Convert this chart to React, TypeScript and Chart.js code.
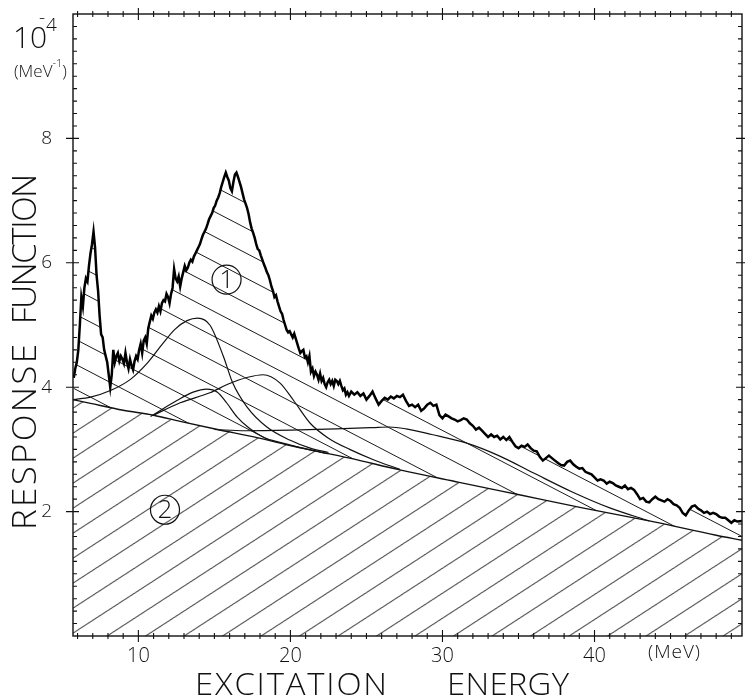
import React, { useEffect, useRef } from 'react';
import { Chart, registerables } from 'chart.js';

Chart.register(...registerables);

// ---------- data ----------
const X_MIN = 5.7;
const X_MAX = 49.7;
const Y_MIN = 0;
const Y_MAX = 10;
const X_TICKS = [10, 20, 30, 40];
const Y_TICKS = [2, 4, 6, 8];

// measured response function (x 10^-4 MeV^-1) vs excitation energy (MeV)
const SPEC_E = [
  5.75, 5.85, 5.95, 6.05, 6.15, 6.25, 6.35, 6.45, 6.55, 6.65, 6.75, 6.85, 6.95, 7.05, 7.15, 7.25, 7.35, 7.45, 7.55, 7.65,
  7.75, 7.85, 7.95, 8.05, 8.15, 8.25, 8.35, 8.45, 8.55, 8.65, 8.75, 8.85, 8.95, 9.05, 9.15, 9.25, 9.35, 9.45, 9.55, 9.65,
  9.75, 9.85, 9.95, 10.05, 10.15, 10.25, 10.35, 10.45, 10.55, 10.65, 10.75, 10.85, 10.95, 11.05, 11.15, 11.25, 11.35, 11.45, 11.55, 11.65,
  11.75, 11.85, 11.95, 12.05, 12.15, 12.25, 12.35, 12.45, 12.55, 12.65, 12.75, 12.85, 12.95, 13.05, 13.15, 13.25, 13.35, 13.45, 13.55, 13.65,
  13.75, 13.85, 13.95, 14.05, 14.15, 14.25, 14.35, 14.45, 14.55, 14.65, 14.75, 14.85, 14.95, 15.05, 15.15, 15.25, 15.35, 15.45, 15.55, 15.65,
  15.75, 15.85, 15.95, 16.05, 16.15, 16.25, 16.35, 16.45, 16.55, 16.65, 16.75, 16.85, 16.95, 17.05, 17.15, 17.25, 17.35, 17.45, 17.55, 17.65,
  17.75, 17.85, 17.95, 18.05, 18.15, 18.25, 18.35, 18.45, 18.55, 18.65, 18.75, 18.85, 18.95, 19.05, 19.15, 19.25, 19.35, 19.45, 19.55, 19.65,
  19.75, 19.85, 19.95, 20.05, 20.15, 20.25, 20.35, 20.45, 20.55, 20.65, 20.75, 20.85, 20.95, 21.05, 21.15, 21.25, 21.35, 21.45, 21.55, 21.65,
  21.75, 21.85, 21.95, 22.05, 22.15, 22.25, 22.35, 22.45, 22.55, 22.65, 22.75, 22.85, 22.95, 23.05, 23.15, 23.25, 23.35, 23.45, 23.55, 23.65,
  23.75, 23.85, 24.0, 24.2, 24.4, 24.6, 24.8, 25.0, 25.2, 25.4, 25.6, 25.8, 26.0, 26.2, 26.4, 26.6, 26.8, 27.0, 27.2, 27.4,
  27.6, 27.8, 28.0, 28.2, 28.4, 28.6, 28.8, 29.0, 29.2, 29.4, 29.6, 29.8, 30.0, 30.2, 30.4, 30.6, 30.8, 31.0, 31.2, 31.4,
  31.6, 31.8, 32.0, 32.2, 32.4, 32.6, 32.8, 33.0, 33.2, 33.4, 33.6, 33.8, 34.0, 34.2, 34.4, 34.6, 34.8, 35.0, 35.2, 35.4,
  35.6, 35.8, 36.0, 36.2, 36.4, 36.6, 36.8, 37.0, 37.2, 37.4, 37.6, 37.8, 38.0, 38.2, 38.4, 38.6, 38.8, 39.0, 39.2, 39.4,
  39.6, 39.8, 40.0, 40.2, 40.4, 40.6, 40.8, 41.0, 41.2, 41.4, 41.6, 41.8, 42.0, 42.2, 42.4, 42.6, 42.8, 43.0, 43.2, 43.4,
  43.6, 43.8, 44.0, 44.2, 44.4, 44.6, 44.8, 45.0, 45.2, 45.4, 45.6, 45.8, 46.0, 46.2, 46.4, 46.6, 46.8, 47.0, 47.2, 47.4,
  47.6, 47.8, 48.0, 48.2, 48.4, 48.6, 48.8, 49.0, 49.2, 49.4, 49.7,
];
const SPEC_R = [
  4.15, 4.3, 4.4, 4.6, 5.0, 5.45, 5.3, 5.6, 5.75, 5.7, 5.95, 6.15, 6.3, 6.5, 6.25, 5.8, 5.55, 5.15, 4.85, 4.8,
  4.6, 4.5, 4.4, 4.2, 4.0, 4.2, 4.6, 4.4, 4.5, 4.55, 4.42, 4.5, 4.45, 4.38, 4.55, 4.4, 4.3, 4.45, 4.35, 4.28,
  4.42, 4.5, 4.45, 4.6, 4.7, 4.55, 4.75, 4.8, 4.7, 4.95, 5.05, 5.15, 5.1, 5.2, 5.25, 5.2, 5.3, 5.22, 5.35, 5.4,
  5.38, 5.5, 5.45, 5.35, 5.5, 5.6, 5.9, 5.75, 5.7, 5.78, 5.62, 5.75, 5.85, 5.95, 5.88, 5.92, 6.0, 6.05, 6.02, 6.1,
  6.15, 6.2, 6.25, 6.3, 6.38, 6.45, 6.5, 6.55, 6.62, 6.7, 6.75, 6.8, 6.88, 6.92, 7.0, 7.05, 7.12, 7.22, 7.3, 7.38,
  7.45, 7.38, 7.32, 7.2, 7.15, 7.3, 7.42, 7.45, 7.38, 7.3, 7.22, 7.12, 7.02, 6.95, 6.88, 6.78, 6.65, 6.55, 6.48, 6.4,
  6.3, 6.22, 6.2, 6.12, 6.05, 5.98, 5.92, 5.85, 5.8, 5.72, 5.62, 5.55, 5.45, 5.48, 5.38, 5.3, 5.22, 5.18, 5.08, 5.0,
  4.92, 4.88, 4.9, 4.85, 4.8, 4.86, 4.78, 4.7, 4.62, 4.55, 4.58, 4.6, 4.48, 4.5, 4.4, 4.5, 4.25, 4.3, 4.18, 4.25,
  4.2, 4.12, 4.22, 4.1, 4.15, 4.05, 4.0, 4.08, 4.12, 4.05, 4.1, 4.02, 4.12, 4.1, 4.05, 4.1, 4.02, 3.95, 3.98, 3.88,
  3.92, 3.86, 3.93, 3.88, 3.92, 3.86, 3.9, 3.8, 3.86, 3.93, 3.82, 3.72, 3.78, 3.83, 3.8, 3.85, 3.82, 3.86, 3.84, 3.88,
  3.78, 3.7, 3.72, 3.68, 3.72, 3.62, 3.66, 3.72, 3.75, 3.7, 3.72, 3.55, 3.5, 3.56, 3.53, 3.5, 3.48, 3.45, 3.47, 3.5,
  3.48, 3.42, 3.38, 3.32, 3.35, 3.3, 3.25, 3.2, 3.24, 3.2, 3.22, 3.16, 3.2, 3.15, 3.2, 3.12, 3.05, 3.02, 3.06, 3.04,
  3.08, 3.02, 2.98, 2.97, 2.88, 2.82, 2.86, 2.9, 2.86, 2.82, 2.78, 2.75, 2.74, 2.8, 2.82, 2.76, 2.72, 2.69, 2.7, 2.64,
  2.62, 2.6, 2.55, 2.5, 2.52, 2.5, 2.45, 2.48, 2.46, 2.42, 2.4, 2.38, 2.42, 2.36, 2.38, 2.35, 2.28, 2.2, 2.22, 2.16,
  2.15, 2.2, 2.24, 2.2, 2.18, 2.16, 2.2, 2.17, 2.12, 2.1, 2.06, 1.98, 1.94, 2.02, 2.08, 2.1, 2.05, 2.02, 1.98, 2.0,
  1.96, 1.98, 1.96, 1.92, 1.9, 1.9, 1.86, 1.82, 1.86, 1.84, 1.85,
];

// background (region 2 upper boundary)
const BG_E = [5.7, 6.85, 9.0, 11.0, 12.75, 15.2, 17.8, 20.2, 23.9, 27.2, 31.1, 35.05, 39.2, 43.6, 48.0, 49.7];
const BG_R = [3.8, 3.74, 3.63, 3.55, 3.45, 3.32, 3.19, 3.05, 2.86, 2.67, 2.47, 2.27, 2.06, 1.85, 1.62, 1.54];

// fitted components (drawn on top of the background)
const COMP_A_E = [5.7, 6.85, 8.2, 9.5, 10.6, 11.6, 12.4, 13.2, 13.9, 14.7, 15.6, 16.2, 17.15, 18.45, 19.95, 21.3, 22.5];
const COMP_A_R = [3.8, 3.84, 3.95, 4.13, 4.39, 4.7, 4.93, 5.07, 5.11, 5.0, 4.49, 4.07, 3.68, 3.36, 3.15, 3.02, 2.95];
const COMP_B_E = [10.8, 12.56, 13.6, 14.5, 15.2, 15.8, 16.5, 17.3, 18.2, 19.5, 21.3, 22.5];
const COMP_B_R = [3.53, 3.79, 3.92, 3.97, 3.92, 3.75, 3.52, 3.34, 3.2, 3.1, 2.99, 2.93];
const COMP_C_E = [11.0, 12.75, 14.7, 16.0, 17.2, 18.2, 19.3, 20.2, 21.3, 22.5, 23.9, 25.5, 27.2];
const COMP_C_R = [3.55, 3.75, 3.91, 4.06, 4.16, 4.2, 4.07, 3.79, 3.42, 3.18, 3.0, 2.83, 2.68];
const COMP_D_E = [15.0, 17.0, 20.0, 23.0, 25.4, 26.5, 27.6, 29.3, 31.6, 33.7, 36.0, 38.5, 41.0, 43.6];
const COMP_D_R = [3.32, 3.3, 3.31, 3.33, 3.35, 3.36, 3.33, 3.24, 3.1, 2.9, 2.62, 2.32, 2.06, 1.85];

// region labels (circled numbers) anchored in data space
const REGION_LABELS = [
  { text: '1', e: 15.8, r: 5.73 },
  { text: '2', e: 11.75, r: 2.03 },
];

// ---------- helpers ----------
const zip = (xs: number[], ys: number[]) => xs.map((x, i) => ({ x, y: ys[i] }));

function makeHatch(period: number, vSpacing: number, reps: number, dir: 1 | -1, lw: number, shiftX: number) {
  const tw = Math.round(period * reps);
  const th = Math.round(vSpacing * reps);
  const c = document.createElement('canvas');
  c.width = tw;
  c.height = th;
  const g = c.getContext('2d')!;
  g.strokeStyle = '#1a1a1a';
  g.lineWidth = lw;
  const P = tw / reps;
  const V = th / reps;
  for (let k = -3 * reps - 3; k <= 3 * reps + 3; k++) {
    const y0 = -V;
    const y1 = th + V;
    const x0 = P * (k - (dir * y0) / V);
    const x1 = P * (k - (dir * y1) / V);
    g.beginPath();
    g.moveTo(x0, y0);
    g.lineTo(x1, y1);
    g.stroke();
  }
  const pat = document.createElement('canvas').getContext('2d')!.createPattern(c, 'repeat')!;
  if (shiftX && (pat as any).setTransform) pat.setTransform(new DOMMatrix().translate(shiftX, 0));
  return pat;
}

const FONT = '"Open Sans", "DejaVu Sans", "Liberation Sans", sans-serif';

// draws text stretched horizontally by sx and letter-spaced to fill `width`
function spacedText(ctx: CanvasRenderingContext2D, text: string, x: number, y: number, width: number, sx = 1) {
  ctx.save();
  (ctx as any).letterSpacing = '0px';
  const base = ctx.measureText(text).width;
  const ls = text.length > 1 ? (width / sx - base) / (text.length - 1) : 0;
  (ctx as any).letterSpacing = `${ls}px`;
  ctx.translate(x, y);
  ctx.scale(sx, 1);
  ctx.fillText(text, 0, 0);
  (ctx as any).letterSpacing = '0px';
  ctx.restore();
}

const decorPlugin = {
  id: 'decor',
  afterDraw(chart: any) {
    const { ctx, chartArea: a, scales } = chart;
    const xs = scales.x;
    const ys = scales.y;
    ctx.save();
    ctx.strokeStyle = '#111';
    ctx.lineWidth = 1.4;
    ctx.strokeRect(a.left, a.top, a.right - a.left, a.bottom - a.top);

    ctx.lineWidth = 1.1;
    for (let v = Math.ceil(X_MIN); v <= Math.floor(X_MAX); v++) {
      const px = xs.getPixelForValue(v);
      const major = X_TICKS.includes(v);
      const len = major ? 6 : 3;
      ctx.beginPath();
      ctx.moveTo(px, a.bottom - len);
      ctx.lineTo(px, a.bottom + len);
      ctx.moveTo(px, a.top - len);
      ctx.lineTo(px, a.top + len);
      ctx.stroke();
    }
    for (let i = 1; i < 50; i++) {
      const v = i * 0.2;
      const py = ys.getPixelForValue(v);
      const major = i % 10 === 0;
      ctx.beginPath();
      ctx.moveTo(a.left - (major ? 7 : 0), py);
      ctx.lineTo(a.left + (major ? 6 : 4), py);
      ctx.moveTo(a.right - (major ? 6 : 4), py);
      ctx.lineTo(a.right + (major ? 7 : 0), py);
      ctx.stroke();
    }

    // circled region labels
    ctx.lineWidth = 1.2;
    for (const l of REGION_LABELS) {
      const cx = xs.getPixelForValue(l.e);
      const cy = ys.getPixelForValue(l.r);
      ctx.beginPath();
      ctx.arc(cx, cy, 14.5, 0, Math.PI * 2);
      ctx.stroke();
      ctx.fillStyle = '#111';
      ctx.font = `300 26px ${FONT}`;
      ctx.textAlign = 'center';
      ctx.textBaseline = 'middle';
      ctx.fillText(l.text, cx, cy + 1);
    }

    // unit label 10^-4 (MeV^-1)
    ctx.fillStyle = '#111';
    ctx.textAlign = 'left';
    ctx.textBaseline = 'alphabetic';
    ctx.font = `300 30px ${FONT}`;
    ctx.fillText('10', 13, 48);
    ctx.font = `300 19px ${FONT}`;
    ctx.fillText('-', 39, 24);
    ctx.fillText('4', 46, 31);
    ctx.font = `300 17px ${FONT}`;
    ctx.fillText('(MeV', 14, 77);
    const w1 = ctx.measureText('(MeV').width;
    ctx.font = `300 11px ${FONT}`;
    ctx.fillText('-1', 14 + w1, 67);
    const w2 = ctx.measureText('-1').width;
    ctx.font = `300 17px ${FONT}`;
    ctx.fillText(')', 14 + w1 + w2, 77);

    // (MeV) on x axis
    ctx.font = `300 19px ${FONT}`;
    spacedText(ctx, '(MeV)', 648, 658, 52);

    // x axis title
    ctx.font = `300 31px ${FONT}`;
    spacedText(ctx, 'EXCITATION', 195, 695, 192, 1.06);
    spacedText(ctx, 'ENERGY', 447, 695, 122, 1.06);

    // y axis title (rotated)
    ctx.save();
    ctx.translate(36, 530);
    ctx.rotate(-Math.PI / 2);
    ctx.font = `300 33px ${FONT}`;
    spacedText(ctx, 'RESPONSE', 0, 0, 186, 1.06);
    spacedText(ctx, 'FUNCTION', 206, 0, 150, 1.0);
    ctx.restore();

    ctx.restore();
  },
};

export default function App() {
  const ref = useRef<HTMLCanvasElement | null>(null);

  useEffect(() => {
    const canvas = ref.current;
    if (!canvas) return;
    const hatch1 = makeHatch(48, 25, 1, -1, 1.0, 0);
    const hatch2 = makeHatch(38.5, 25, 2, 1, 1.0, 8.5);

    const thin = { pointRadius: 0, borderColor: '#111', borderWidth: 1.2, fill: false, cubicInterpolationMode: 'monotone' as const };

    const chart = new Chart(canvas, {
      type: 'line',
      data: {
        datasets: [
          {
            label: 'spectrum',
            data: zip(SPEC_E, SPEC_R),
            borderColor: '#000',
            borderWidth: 2.5,
            pointRadius: 0,
            tension: 0,
            fill: { target: 1 },
            backgroundColor: hatch1 as any,
          },
          {
            label: 'background',
            data: zip(BG_E, BG_R),
            borderColor: '#111',
            borderWidth: 1.4,
            pointRadius: 0,
            cubicInterpolationMode: 'monotone',
            fill: 'origin',
            backgroundColor: hatch2 as any,
          },
          { label: 'A', data: zip(COMP_A_E, COMP_A_R), ...thin },
          { label: 'B', data: zip(COMP_B_E, COMP_B_R), ...thin },
          { label: 'C', data: zip(COMP_C_E, COMP_C_R), ...thin },
          { label: 'D', data: zip(COMP_D_E, COMP_D_R), ...thin },
        ],
      },
      options: {
        responsive: false,
        maintainAspectRatio: false,
        animation: false,
        parsing: false as any,
        layout: { padding: { left: 0, right: 3, top: 14, bottom: 0 } },
        plugins: {
          legend: { display: false },
          tooltip: { enabled: false },
          filler: { propagate: false, drawTime: 'beforeDatasetsDraw' },
        } as any,
        scales: {
          x: {
            type: 'linear',
            min: X_MIN,
            max: X_MAX,
            grid: { display: false },
            border: { display: false },
            afterBuildTicks: (s: any) => {
              s.ticks = X_TICKS.map((v) => ({ value: v }));
            },
            afterFit: (s: any) => {
              s.height = 62;
              s.paddingLeft = 0;
              s.paddingRight = 0;
            },
            ticks: {
              color: '#111',
              font: { family: FONT, size: 20, weight: '300' as any },
              padding: 0,
              maxRotation: 0,
              autoSkip: false,
            },
          },
          y: {
            type: 'linear',
            min: Y_MIN,
            max: Y_MAX,
            grid: { display: false },
            border: { display: false },
            afterBuildTicks: (s: any) => {
              s.ticks = Y_TICKS.map((v) => ({ value: v }));
            },
            afterFit: (s: any) => {
              s.width = 73;
              s.paddingTop = 0;
              s.paddingBottom = 0;
            },
            ticks: {
              color: '#111',
              font: { family: FONT, size: 19, weight: '300' as any },
              padding: 13,
            },
          },
        },
      },
      plugins: [decorPlugin],
    });
    return () => chart.destroy();
  }, []);

  return (
    <div style={{ position: 'absolute', left: 0, top: 0, width: 745, height: 698, background: '#fff' }}>
      <canvas ref={ref} width={745} height={698} style={{ display: 'block' }} />
    </div>
  );
}
